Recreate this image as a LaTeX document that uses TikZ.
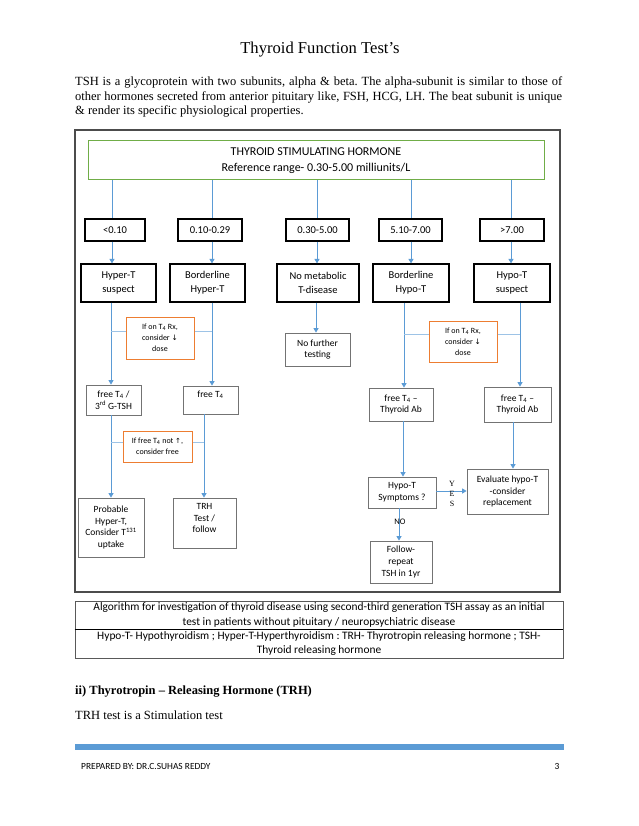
\documentclass[tikz,border=0pt]{standalone}
\usepackage{fontspec}
\setmainfont{Liberation Serif}
\newfontfamily\calfont{Carlito}
\newfontfamily\symfont{DejaVu Sans}
\usetikzlibrary{arrows.meta}
\definecolor{lblue}{HTML}{5B9BD5}
\definecolor{stub}{HTML}{9DC3E6}
\definecolor{grn}{HTML}{70AD47}
\definecolor{org}{HTML}{ED7D31}
\frenchspacing
\begin{document}
\begin{tikzpicture}[x=1pt,y=-1pt,
  bx/.style={draw=black, line width=1.2pt, inner sep=0pt, align=center, font=\calfont\fontsize{10.5}{14}\selectfont},
  lbx/.style={draw=black!55, line width=0.8pt, inner sep=0pt, align=center, font=\calfont\fontsize{9.5}{11.7}\selectfont},
  obx/.style={draw=org, line width=1pt, inner sep=0pt, align=center, font=\calfont\fontsize{8}{11}\selectfont},
  cbx/.style={draw=black!65, line width=0.8pt, inner sep=0pt, align=center, font=\calfont\fontsize{11.4}{14.3}\selectfont, minimum width=488pt},
  arr/.style={draw=lblue, line width=0.9pt, -{Triangle[width=5pt,length=4.5pt]}},
  ln/.style={draw=lblue, line width=0.9pt},
  stb/.style={draw=stub, line width=0.9pt},
  txt/.style={inner sep=0pt, font=\fontsize{12.5}{14.4}\selectfont},
]
\useasboundingbox (0,0) rectangle (638,826);
\fill[white] (0,0) rectangle (638,826);

% header text
\node[inner sep=0pt, anchor=base, font=\fontsize{16.6}{20}\selectfont] (title) at (320,54) {Thyroid Function Test’s};
\node[txt, anchor=base west] (par1) at (75,86) {\makebox[487pt][s]{TSH is a glycoprotein with two subunits, alpha \& beta. The alpha-subunit is similar to those of}};
\node[txt, anchor=base west] (par2) at (75,100.5) {\makebox[487pt][s]{other hormones secreted from anterior pituitary like, FSH, HCG, LH. The beat subunit is unique}};
\node[txt, anchor=base west] (par3) at (75,115) {\& render its specific physiological properties.};

% frame
\node[draw=black!70, line width=1.1pt, minimum width=485pt, minimum height=462pt, inner sep=0pt] (frame) at (317.5,361) {};

% TSH box
\node[draw=grn, line width=1pt, minimum width=456pt, minimum height=39pt, inner sep=0pt, align=center, font=\calfont\fontsize{12}{16}\selectfont] (tsh) at (316,160.5) {THYROID STIMULATING HORMONE\\Reference range- 0.30-5.00 milliunits/L};

% columns
\coordinate (c1) at (112,0);
\coordinate (c2) at (212,0);
\coordinate (c3) at (317,0);
\coordinate (c4) at (411,0);
\coordinate (c5) at (511,0);

% range boxes
\node[bx, minimum width=60pt, minimum height=22pt] (r1) at (115,230) {<0.10};
\node[bx, minimum width=64pt, minimum height=22pt] (r2) at (210,230) {0.10-0.29};
\node[bx, minimum width=63pt, minimum height=22pt] (r3) at (317.5,230) {0.30-5.00};
\node[bx, minimum width=63pt, minimum height=22pt] (r4) at (410.5,230) {5.10-7.00};
\node[bx, minimum width=64pt, minimum height=22pt] (r5) at (512,230) {>7.00};

% row 2
\node[bx, minimum width=75pt, minimum height=38pt] (a1) at (118.5,283) {Hyper-T\\suspect};
\node[bx, minimum width=75pt, minimum height=38pt] (a2) at (207.5,283) {Borderline\\Hyper-T};
\node[bx, minimum width=82pt, minimum height=38pt] (a3) at (318,283) {No metabolic\\T-disease};
\node[bx, minimum width=76pt, minimum height=38pt] (a4) at (411,283) {Borderline\\Hypo-T};
\node[bx, minimum width=76pt, minimum height=38pt] (a5) at (512,283) {Hypo-T\\suspect};

\foreach \i in {1,...,5}{
  \draw[ln] (tsh.south -| c\i) -- (r\i.north -| c\i);
  \draw[arr] (r\i.south -| c\i) -- (a\i.north -| c\i);
}

% orange boxes
\node[obx, minimum width=68pt, minimum height=42pt] (o1) at (160,338) {If on T\textsubscript{4} Rx,\\consider {\symfont\fontsize{7.5}{11}\selectfont↓}\\dose};
\node[obx, minimum width=68pt, minimum height=41pt] (o2) at (463,341.5) {If on T\textsubscript{4} Rx,\\consider {\symfont\fontsize{7.5}{11}\selectfont↓}\\dose};
\node[obx, minimum width=69pt, minimum height=31pt] (o3) at (157.5,446.5) {If free T\textsubscript{4} not {\symfont\fontsize{7}{11}\selectfont↑},\\consider free};

% lower boxes
\node[lbx, minimum width=55pt, minimum height=30pt] (b1) at (113.5,400) {free T\textsubscript{4} /\\3\textsuperscript{rd} G-TSH};
\node[lbx, minimum width=55pt, minimum height=28pt] (b2) at (210.5,400) {free T\textsubscript{4}\\~};
\node[lbx, minimum width=65pt, minimum height=33pt] (nf) at (317.5,349.5) {No further\\testing};
\node[lbx, minimum width=64pt, minimum height=33pt] (b3) at (401,404.5) {free T\textsubscript{4} –\\Thyroid Ab};
\node[lbx, minimum width=67pt, minimum height=35pt] (b4) at (517.5,404.5) {free T\textsubscript{4} –\\Thyroid Ab};

\node[lbx, minimum width=66pt, minimum height=59pt] (p1) at (111,527.5) {Probable\\Hyper-T,\\Consider T\textsuperscript{131}\\uptake};
\node[lbx, minimum width=63pt, minimum height=50pt] (p2) at (204.5,523) {TRH\\Test /\\follow\\[-2pt]~};
\node[lbx, minimum width=68pt, minimum height=31pt] (h1) at (402,492.5) {Hypo-T\\Symptoms ?};
\node[lbx, minimum width=81pt, minimum height=45pt] (e1) at (507.5,491.5) {Evaluate hypo-T\\-consider\\replacement};
\node[lbx, minimum width=62pt, minimum height=42pt] (fw) at (401,562) {Follow-\\repeat\\TSH in 1yr};

% lower columns
\coordinate (d1) at (111,0);
\coordinate (d2) at (212,0);
\coordinate (d2b) at (204,0);
\coordinate (d3) at (316,0);
\coordinate (d4) at (404,0);
\coordinate (d4b) at (403,0);
\coordinate (d4c) at (399,0);
\coordinate (d5) at (520,0);
\coordinate (d5b) at (513,0);
\coordinate (s1) at (0,331);
\coordinate (s2) at (0,334);
\coordinate (s3) at (0,442);
\coordinate (yy) at (0,491);

\draw[arr] (a1.south -| d1) -- (b1.north -| d1);
\draw[arr] (b1.south -| d1) -- (p1.north -| d1);
\draw[arr] (a2.south -| d2) -- (b2.north -| d2);
\draw[arr] (b2.south -| d2b) -- (p2.north -| d2b);
\draw[arr] (a3.south -| d3) -- (nf.north -| d3);
\draw[arr] (a4.south -| d4) -- (b3.north -| d4);
\draw[arr] (b3.south -| d4b) -- (h1.north -| d4b);
\draw[arr] (a5.south -| d5) -- (b4.north -| d5);
\draw[arr] (b4.south -| d5b) -- (e1.north -| d5b);
\draw[arr] (h1.south -| d4c) -- (fw.north -| d4c);
\draw[arr] (h1.east |- yy) -- (e1.west |- yy);

% stubs
\draw[stb] (d1 |- s1) -- (o1.west |- s1);
\draw[stb] (o1.east |- s1) -- (d2 |- s1);
\draw[stb] (d4 |- s2) -- (o2.west |- s2);
\draw[stb] (o2.east |- s2) -- (d5 |- s2);
\draw[stb] (d1 |- s3) -- (o3.west |- s3);
\draw[stb] (o3.east |- s3) -- (d2b |- s3);

% labels
\node[inner sep=0pt, align=center, font=\fontsize{8}{10}\selectfont] (yes) at (452,493.5) {Y\\E\\S};
\node[inner sep=0pt, font=\calfont\fontsize{8.5}{10}\selectfont] (no) at (400,522) {NO};

% caption
\node[cbx, minimum height=28pt] (cap1) at (319,615) {Algorithm for investigation of thyroid disease using second-third generation TSH assay as an initial\\test in patients without pituitary / neuropsychiatric disease};
\node[cbx, minimum height=29pt] (cap2) at (319,643.5) {Hypo-T- Hypothyroidism ; Hyper-T-Hyperthyroidism : TRH- Thyrotropin releasing hormone ; TSH-\\Thyroid releasing hormone};
\draw[black, line width=1pt] (cap1.south west) -- (cap1.south east);

% bottom text
\node[txt, anchor=base west, font=\bfseries\fontsize{12.5}{15}\selectfont] (head) at (75,694.5) {ii) Thyrotropin – Releasing Hormone (TRH)};
\node[txt, anchor=base west] (trh) at (75,719) {TRH test is a Stimulation test};
\fill[lblue] (75,744) rectangle (564,750);
\node[inner sep=0pt, anchor=base west, font=\calfont\fontsize{9.4}{10}\selectfont] (foot) at (81,769) {PREPARED BY: DR.C.SUHAS REDDY};
\node[inner sep=0pt, anchor=base, font=\calfont\fontsize{9.4}{10}\selectfont] (pg) at (557,769) {3};
\end{tikzpicture}
\end{document}
